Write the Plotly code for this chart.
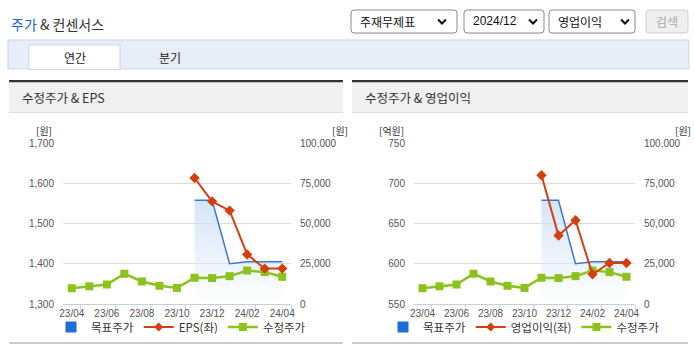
import plotly.graph_objects as go

# ---------------- data ----------------
months = ['23/04', '23/05', '23/06', '23/07', '23/08', '23/09', '23/10',
          '23/11', '23/12', '24/01', '24/02', '24/03', '24/04']
price = [9800, 11000, 12100, 18800, 14000, 11300, 10000,
         16300, 16100, 17300, 20800, 19800, 16900]          # 수정주가 (원)
target = [None, None, None, None, None, None, None,
          64400, 64400, 25000, 26200, 26200, 26200]          # 목표주가 (원)
eps = [None, None, None, None, None, None, None,
       1613, 1555, 1532, 1423, 1388, 1388]                  # EPS (원)
op_profit = [None, None, None, None, None, None, None,
             710, 635, 654, 587, 601, 601]                   # 영업이익 (억원)

x_label_idx = [0, 2, 4, 6, 8, 10, 12]
x_labels = [months[i] for i in x_label_idx]
x_boundaries = [0.5, 2.5, 4.5, 6.5, 8.5, 10.5, 12.5]
right_ticks = [0, 25000, 50000, 75000, 100000]
eps_ticks = [1300, 1400, 1500, 1600, 1700]
op_ticks = [550, 600, 650, 700, 750]

xs = list(range(len(months)))

# ---------------- style ----------------
W, H = 695, 349
KFONT = 'Noto Sans CJK KR, Noto Sans, sans-serif'
NFONT = 'Liberation Sans Narrow, Liberation Sans, Arial, sans-serif'
BLUE = '#3b78d6'
LEG_BLUE = '#1f6ddb'
RED = '#d2400f'
GREEN = '#8cc21c'
AXIS = '#c3d0e2'
GRID = '#dcdcdc'
TICKC = '#555555'


def X(p):
    return p / W


def Y(p):
    return 1 - p / H


fig = go.Figure()


def add_chart(xa, ybase, yover, left_vals):
    tmax = max(v for v in target if v is not None)
    fig.add_trace(go.Scatter(
        x=xs, y=target, xaxis=xa, yaxis=ybase, mode='lines',
        line=dict(color=BLUE, width=1.5), fill='tozeroy',
        fillgradient=dict(type='vertical', start=0, stop=tmax,
                          colorscale=[[0, 'rgba(225,236,250,0)'],
                                      [0.35, 'rgba(220,233,249,0.45)'],
                                      [1, 'rgba(205,224,247,0.85)']]),
        showlegend=False, hoverinfo='skip'))
    fig.add_trace(go.Scatter(
        x=xs, y=price, xaxis=xa, yaxis=ybase, mode='lines+markers',
        line=dict(color=GREEN, width=2.5),
        marker=dict(symbol='square', size=8, color=GREEN),
        showlegend=False, hoverinfo='skip'))
    fig.add_trace(go.Scatter(
        x=xs, y=left_vals, xaxis=xa, yaxis=yover, mode='lines+markers',
        line=dict(color=RED, width=2),
        marker=dict(symbol='diamond', size=8, color=RED),
        showlegend=False, hoverinfo='skip'))


add_chart('x', 'y', 'y2', eps)
add_chart('x2', 'y3', 'y4', op_profit)

# legend-only entries
for leg, name2 in (('legend', 'EPS(좌)'), ('legend2', '영업이익(좌)')):
    xa, ya = ('x', 'y') if leg == 'legend' else ('x2', 'y3')
    fig.add_trace(go.Scatter(x=[None], y=[None], xaxis=xa, yaxis=ya, mode='markers',
                             marker=dict(symbol='square', size=11, color=LEG_BLUE),
                             name='목표주가', legend=leg))
    fig.add_trace(go.Scatter(x=[None], y=[None], xaxis=xa, yaxis=ya, mode='lines+markers',
                             line=dict(color=RED, width=2),
                             marker=dict(symbol='diamond', size=7, color=RED),
                             name=name2, legend=leg))
    fig.add_trace(go.Scatter(x=[None], y=[None], xaxis=xa, yaxis=ya, mode='lines+markers',
                             line=dict(color=GREEN, width=2.5),
                             marker=dict(symbol='square', size=8, color=GREEN),
                             name='수정주가', legend=leg))

ydom = [Y(304), Y(143)]


def xaxis_cfg(x0, x1, anchor):
    return dict(domain=[X(x0), X(x1)], range=[-0.5, len(months) - 0.5], anchor=anchor,
                tickmode='array', tickvals=x_label_idx, ticktext=x_labels, ticks='',
                showline=True, linecolor=AXIS, linewidth=1, showgrid=False, zeroline=False,
                tickfont=dict(family=NFONT, size=10, color=TICKC), fixedrange=True,
                automargin=False,
                minor=dict(tickmode='array', tickvals=x_boundaries, ticks='outside',
                           ticklen=5, tickcolor=AXIS, tickwidth=1, showgrid=False))


def base_y(anchor):
    return dict(domain=ydom, range=[0, 100000], anchor=anchor, side='right',
                tickmode='array', tickvals=right_ticks, tickformat=',',
                showgrid=True, gridcolor=GRID, gridwidth=1, zeroline=False, showline=False,
                ticks='', ticklabelstandoff=8, automargin=False,
                tickfont=dict(family=NFONT, size=10, color=TICKC), fixedrange=True)


def over_y(base, anchor, ticks):
    return dict(domain=ydom, range=[ticks[0], ticks[-1]], anchor=anchor, side='left',
                overlaying=base, tickmode='array', tickvals=ticks, tickformat=',',
                showgrid=False, zeroline=False, showline=False, ticks='',
                ticklabelstandoff=8, automargin=False,
                tickfont=dict(family=NFONT, size=10, color=TICKC), fixedrange=True)


def rrect(x0, y0, x1, y1, r):
    return (f"M {X(x0 + r)},{Y(y0)} L {X(x1 - r)},{Y(y0)} "
            f"Q {X(x1)},{Y(y0)} {X(x1)},{Y(y0 + r)} L {X(x1)},{Y(y1 - r)} "
            f"Q {X(x1)},{Y(y1)} {X(x1 - r)},{Y(y1)} L {X(x0 + r)},{Y(y1)} "
            f"Q {X(x0)},{Y(y1)} {X(x0)},{Y(y1 - r)} L {X(x0)},{Y(y0 + r)} "
            f"Q {X(x0)},{Y(y0)} {X(x0 + r)},{Y(y0)} Z")


def rect(x0, y0, x1, y1, fill, line=None, lw=0):
    return dict(type='rect', xref='paper', yref='paper', x0=X(x0), x1=X(x1),
                y0=Y(y1), y1=Y(y0), fillcolor=fill,
                line=dict(color=line or fill, width=lw), layer='below')


def chevron(cx, cy):
    return dict(type='path', xref='paper', yref='paper',
                path=f"M {X(cx - 4)},{Y(cy - 2)} L {X(cx)},{Y(cy + 2)} L {X(cx + 4)},{Y(cy - 2)}",
                line=dict(color='#111111', width=2))


shapes = [
    rect(8, 40, 689, 69, '#e8eef8', '#cbd6ea', 1),
    rect(29, 45, 120, 69.5, '#ffffff', '#cbd6ea', 1),
]
for (a, b) in ((9, 343), (352, 688)):
    shapes += [
        rect(a, 80, b, 82.5, '#333333'),
        rect(a, 82.5, b, 112, '#f0f0f0'),
        rect(a, 112, b, 113, '#dddddd'),
        rect(a, 342, b, 344, '#cccccc'),
    ]
for (a, b) in ((351, 457), (464, 544), (549, 635)):
    shapes.append(dict(type='path', xref='paper', yref='paper', path=rrect(a, 10, b, 33, 3),
                       fillcolor='#ffffff', line=dict(color='#8a8a8a', width=1)))
shapes.append(dict(type='path', xref='paper', yref='paper', path=rrect(646, 10, 688, 33, 3),
                   fillcolor='#efefef', line=dict(color='#cfcfcf', width=1)))
shapes += [chevron(442, 21.5), chevron(533, 21.5), chevron(625, 21.5)]


def txt(s, x, y, size=12, color='#222222', anchor='left', family=KFONT):
    return dict(text=s, x=X(x), y=Y(y), xref='paper', yref='paper', showarrow=False,
                xanchor=anchor, yanchor='middle', font=dict(family=family, size=size, color=color))


annotations = [
    txt("<span style='color:#1d5fcf'>주가</span> & 컨센서스", 9, 24, 14, '#333333'),
    txt('주재무제표', 358, 21.5, 12, '#111111'),
    txt('2024/12', 471, 21.5, 12, '#111111', family='Liberation Sans, Arial, sans-serif'),
    txt('영업이익', 556, 21.5, 12, '#111111'),
    txt('검색', 667, 21.5, 12, '#aaaaaa', 'center'),
    txt('연간', 74.5, 57.5, 12, '#222222', 'center'),
    txt('분기', 170, 57.5, 12, '#222222', 'center'),
    txt('수정주가 & EPS', 20, 97.5, 12.5, '#333333'),
    txt('수정주가 & 영업이익', 363, 97.5, 12.5, '#333333'),
    txt('[원]', 54, 130.5, 10, '#333333', 'right'),
    txt('[원]', 330, 130.5, 10, '#333333', 'left'),
    txt('[억원]', 406, 130.5, 10, '#333333', 'right'),
    txt('[원]', 673, 130.5, 10, '#333333', 'left'),
]

legend_common = dict(orientation='h', xanchor='center', yanchor='middle',
                     bgcolor='rgba(0,0,0,0)', font=dict(family=KFONT, size=11.5, color='#333333'),
                     itemclick=False, itemdoubleclick=False)

fig.update_layout(
    width=W, height=H, margin=dict(l=0, r=0, t=0, b=0, pad=0, autoexpand=False),
    paper_bgcolor='#ffffff', plot_bgcolor='rgba(0,0,0,0)',
    showlegend=True, hovermode=False,
    xaxis=xaxis_cfg(63, 291, 'y'),
    xaxis2=xaxis_cfg(414, 635, 'y3'),
    yaxis=base_y('x'),
    yaxis2=over_y('y', 'x', eps_ticks),
    yaxis3=base_y('x2'),
    yaxis4=over_y('y3', 'x2', op_ticks),
    legend=dict(x=X(181), y=Y(327), **legend_common),
    legend2=dict(x=X(524), y=Y(327), **legend_common),
    shapes=shapes, annotations=annotations,
)

fig.write_html('out.html', config={'displayModeBar': False})
